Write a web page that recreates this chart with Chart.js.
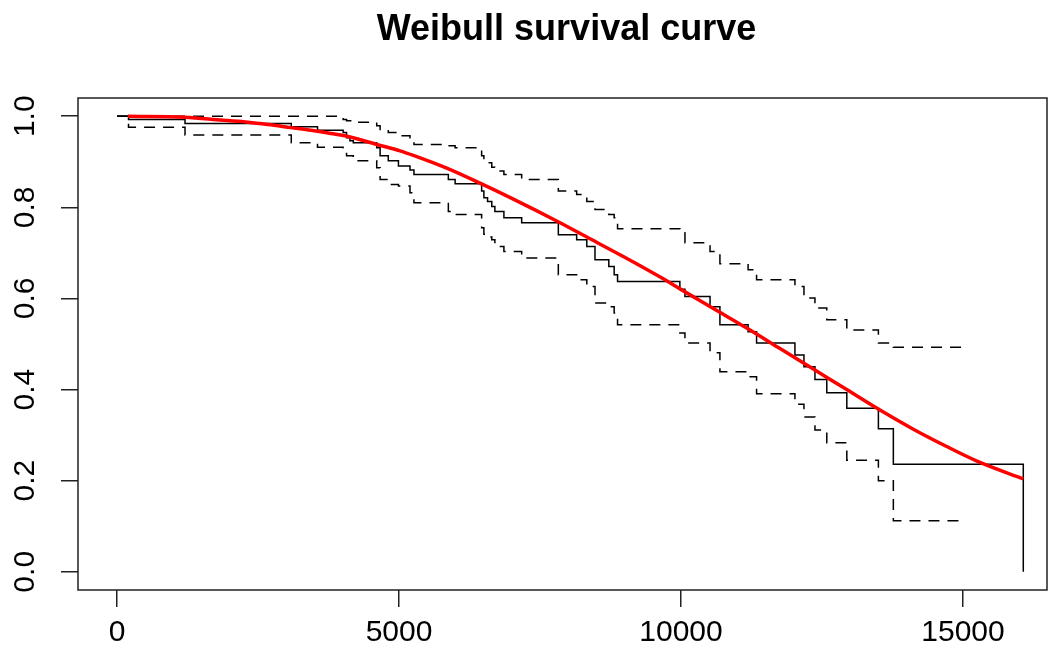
<!DOCTYPE html>
<html>
<head>
<meta charset="utf-8">
<title>Weibull survival curve</title>
<script src="https://cdn.jsdelivr.net/npm/chart.js@4.4.1/dist/chart.umd.min.js"></script>
<style>
  html, body { margin: 0; padding: 0; background: #fff; }
  #wrap { width: 1049px; height: 660px; }
</style>
</head>
<body>
<div id="wrap"><canvas id="survChart" width="1049" height="660"></canvas></div>
<script>
// Kaplan-Meier estimate at each event time, with its 95% band
const eventTimes = [204, 1206, 3090, 3555, 4010, 4070, 4130, 4190, 4605, 4665,
  4810, 4990, 5195, 5265, 5875, 5995, 6465, 6505, 6570, 6645,
  6700, 6860, 7175, 7825, 8150, 8330, 8475, 8720, 8815, 8875,
  9980, 10070, 10515, 10690, 11190, 11340, 12020, 12180, 12375, 12585,
  12940, 13500, 13765];
const kmSurv = [0.993, 0.984, 0.977, 0.969, 0.964, 0.953, 0.946, 0.942, 0.931, 0.913,
  0.902, 0.891, 0.882, 0.872, 0.861, 0.852, 0.836, 0.821, 0.813, 0.802,
  0.791, 0.777, 0.766, 0.740, 0.729, 0.714, 0.685, 0.670, 0.652, 0.637,
  0.620, 0.604, 0.582, 0.542, 0.527, 0.502, 0.476, 0.450, 0.422, 0.393,
  0.359, 0.314, 0.236];
const ciUpper = [1.000, 1.000, 1.000, 1.000, 0.993, 0.990, 0.990, 0.987, 0.979, 0.971,
  0.964, 0.957, 0.953, 0.938, 0.935, 0.931, 0.913, 0.902, 0.898, 0.888,
  0.880, 0.872, 0.861, 0.836, 0.828, 0.813, 0.795, 0.784, 0.777, 0.753,
  0.744, 0.722, 0.703, 0.676, 0.663, 0.641, 0.626, 0.601, 0.579, 0.553,
  0.531, 0.502, 0.493];
const ciLower = [0.976, 0.959, 0.942, 0.932, 0.931, 0.913, 0.913, 0.902, 0.887, 0.861,
  0.850, 0.847, 0.832, 0.810, 0.791, 0.784, 0.755, 0.741, 0.735, 0.729,
  0.714, 0.703, 0.689, 0.652, 0.641, 0.626, 0.590, 0.582, 0.568, 0.542,
  0.524, 0.502, 0.481, 0.439, 0.428, 0.391, 0.368, 0.340, 0.311, 0.283,
  0.245, 0.200, 0.112];
const ciEndTime = 15000;   // band stops at the last censored time
const lastTime = 16069;    // final event, estimate falls to zero

// fitted Weibull survival
const fitTimes = [195, 1206, 1880, 2323, 2677, 3085, 3440, 3794, 4149, 4605,
  5018, 5254, 5846, 6436, 7027, 7796, 8387, 8977, 9686, 9982,
  10573, 11165, 11755, 12346, 12938, 13528, 14119, 14711, 15301, 16069];
const fitSurv = [1.000, 0.998, 0.991, 0.987, 0.982, 0.975, 0.969, 0.962, 0.954, 0.938,
  0.924, 0.914, 0.886, 0.853, 0.818, 0.770, 0.731, 0.692, 0.643, 0.621,
  0.578, 0.535, 0.490, 0.445, 0.400, 0.355, 0.313, 0.275, 0.240, 0.204];

const xTicks = [0, 5000, 10000, 15000];
const yTicks = [0, 0.2, 0.4, 0.6, 0.8, 1.0];

const FONT = "'Liberation Sans', Arial, Helvetica, sans-serif";
const last = eventTimes.length - 1;

const kmPoints = [{ x: 0, y: 1 }]
  .concat(eventTimes.map((t, i) => ({ x: t, y: kmSurv[i] })))
  .concat([{ x: lastTime, y: 0 }]);
const upperPoints = [{ x: 0, y: 1 }]
  .concat(eventTimes.map((t, i) => ({ x: t, y: ciUpper[i] })))
  .concat([{ x: ciEndTime, y: ciUpper[last] }]);
const lowerPoints = [{ x: 0, y: 1 }]
  .concat(eventTimes.map((t, i) => ({ x: t, y: ciLower[i] })))
  .concat([{ x: ciEndTime, y: ciLower[last] }]);
const fitPoints = fitTimes.map((t, i) => ({ x: t, y: fitSurv[i] }));

// frame round the plot region plus the main title above it
const framePlugin = {
  id: 'frame',
  beforeDatasetsDraw(chart) {
    const { ctx, chartArea: a } = chart;
    ctx.save();
    ctx.strokeStyle = '#222';
    ctx.lineWidth = 1.5;
    ctx.strokeRect(a.left, a.top, a.right - a.left, a.bottom - a.top);
    ctx.restore();
  },
  afterDraw(chart) {
    const { ctx, chartArea: a } = chart;
    ctx.save();
    ctx.fillStyle = '#000';
    ctx.font = 'bold 36px ' + FONT;
    ctx.textAlign = 'center';
    ctx.textBaseline = 'middle';
    ctx.fillText('Weibull survival curve', (a.left + a.right) / 2 + 4, 30.5);
    ctx.restore();
  }
};

const tickGrid = {
  drawOnChartArea: false,
  drawTicks: true,
  tickLength: 17,
  color: '#222',
  lineWidth: 1.5
};

const ctx = document.getElementById('survChart').getContext('2d');
new Chart(ctx, {
  type: 'line',
  data: {
    datasets: [
      {
        label: 'Weibull',
        data: fitPoints,
        borderColor: '#ff0000',
        borderWidth: 3.5,
        pointRadius: 0,
        cubicInterpolationMode: 'monotone',
        fill: false,
        order: 0
      },
      {
        label: 'KM',
        data: kmPoints,
        borderColor: '#000',
        borderWidth: 1.5,
        pointRadius: 0,
        stepped: true,
        fill: false,
        order: 1
      },
      {
        label: 'upper',
        data: upperPoints,
        borderColor: '#000',
        borderWidth: 1.5,
        borderDash: [11, 8],
        pointRadius: 0,
        stepped: true,
        fill: false,
        order: 2
      },
      {
        label: 'lower',
        data: lowerPoints,
        borderColor: '#000',
        borderWidth: 1.5,
        borderDash: [11, 8],
        pointRadius: 0,
        stepped: true,
        fill: false,
        order: 3
      }
    ]
  },
  options: {
    responsive: false,
    animation: false,
    parsing: false,
    layout: { padding: { top: 98, right: 2, left: 0, bottom: 0 } },
    plugins: {
      legend: { display: false },
      tooltip: { enabled: false },
      title: { display: false }
    },
    scales: {
      x: {
        type: 'linear',
        min: -691.5,
        max: 16489.4,
        afterBuildTicks: s => { s.ticks = xTicks.map(v => ({ value: v })); },
        afterFit: s => { s.height = 70; },
        grid: tickGrid,
        border: { display: false },
        ticks: {
          color: '#000',
          font: { family: FONT, size: 30 },
          padding: 7.5,
          minRotation: 0,
          maxRotation: 0,
          autoSkip: false,
          callback: v => String(v)
        }
      },
      y: {
        type: 'linear',
        min: -0.04,
        max: 1.04,
        afterBuildTicks: s => { s.ticks = yTicks.map(v => ({ value: v })); },
        afterFit: s => { s.width = 78; },
        grid: tickGrid,
        border: { display: false },
        ticks: {
          color: '#000',
          font: { family: FONT, size: 30 },
          padding: 14,
          minRotation: 90,
          maxRotation: 90,
          crossAlign: 'center',
          autoSkip: false,
          callback: v => v.toFixed(1)
        }
      }
    }
  },
  plugins: [framePlugin]
});
</script>
</body>
</html>
